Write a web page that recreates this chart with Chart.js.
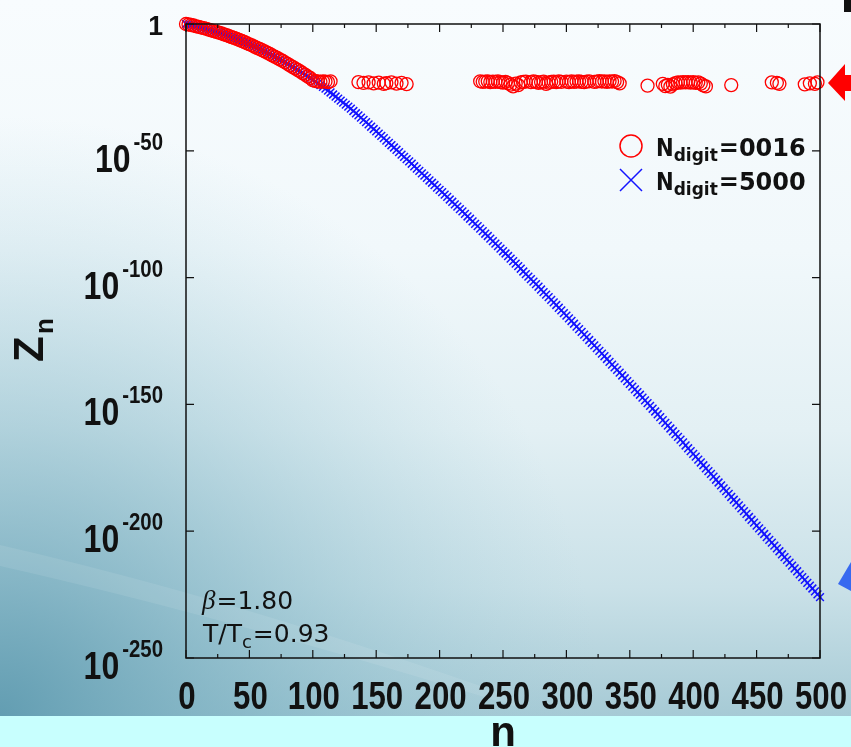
<!DOCTYPE html>
<html>
<head>
<meta charset="utf-8">
<script src="https://cdn.jsdelivr.net/npm/chart.js@4"></script>
<style>
html, body { margin: 0; padding: 0; background: #f6fbfd; overflow: hidden; }
#wrap { width: 851px; height: 747px; }
</style>
</head>
<body>
<div id="wrap"><canvas id="znChart" width="851" height="747"></canvas></div>
<script>
// log10(Z_n), N_digit = 5000, for n = 0, 2, 4, ... 500
const blueStep = 2;
const blueLogZ = [
  0, -0.2, -0.4, -0.6, -0.9, -1.1, -1.4, -1.6, -1.9, -2.2,
  -2.5, -2.8, -3.1, -3.4, -3.7, -4.1, -4.4, -4.8, -5.2, -5.5,
  -5.9, -6.3, -6.7, -7.1, -7.6, -8.0, -8.4, -8.9, -9.4, -9.8,
  -10.3, -10.8, -11.3, -11.8, -12.4, -12.9, -13.4, -14.0, -14.5, -15.1,
  -15.7, -16.3, -16.9, -17.5, -18.1, -18.7, -19.4, -20.0, -20.7, -21.3,
  -22.0, -22.7, -23.4, -24.1, -24.8, -25.5, -26.3, -27.0, -27.8, -28.6,
  -29.4, -30.2, -31.0, -31.8, -32.6, -33.4, -34.3, -35.2, -36.0, -36.9,
  -37.8,
  -38.7, -39.6, -40.5, -41.4, -42.3, -43.2, -44.1, -45.0, -46.0, -46.9,
  -47.8, -48.7, -49.6, -50.5, -51.5, -52.4, -53.3, -54.2, -55.1, -56.1,
  -57.0, -57.9, -58.9, -59.8, -60.7, -61.7, -62.6, -63.5, -64.5, -65.4,
  -66.3, -67.3, -68.2, -69.2, -70.1, -71.1, -72.0, -73.0, -73.9, -74.9,
  -75.9, -76.8, -77.8, -78.8, -79.7, -80.7, -81.7, -82.7, -83.6, -84.6,
  -85.6, -86.6, -87.6, -88.6, -89.6, -90.5, -91.5, -92.5, -93.5, -94.5,
  -95.5, -96.5, -97.6, -98.6, -99.6, -100.6, -101.6, -102.6, -103.6, -104.7,
  -105.7, -106.7, -107.7, -108.8, -109.8, -110.8, -111.9, -112.9, -114.0, -115.0,
  -116.1, -117.1, -118.2, -119.3, -120.3, -121.4, -122.5, -123.5, -124.6, -125.7,
  -126.7, -127.8, -128.9, -130.0, -131.0, -132.1, -133.2, -134.3, -135.4, -136.4,
  -137.5, -138.6, -139.7, -140.8, -141.9, -143.0, -144.1, -145.2, -146.2, -147.3,
  -148.4, -149.5, -150.6, -151.7, -152.8, -153.9, -155.0, -156.2, -157.3, -158.4,
  -159.5, -160.6, -161.7, -162.8, -163.9, -165.0, -166.2, -167.3, -168.4, -169.5,
  -170.6, -171.8, -172.9, -174.0, -175.2, -176.3, -177.4, -178.5, -179.7, -180.8,
  -181.9, -183.1, -184.2, -185.3, -186.5, -187.6, -188.7, -189.8, -191.0, -192.1,
  -193.2, -194.4, -195.5, -196.6, -197.8, -198.9, -200.0, -201.1, -202.3, -203.4,
  -204.5, -205.7, -206.8, -207.9, -209.1, -210.2, -211.3, -212.4, -213.6, -214.7,
  -215.8, -217.0, -218.1, -219.2, -220.4, -221.5, -222.6, -223.7, -224.9, -226.0
];

// N_digit = 0016: follows the exact curve, then stalls near 1e-23
const redN = [
  0, 2, 4, 6, 8, 10, 12, 14, 16, 18, 20, 22, 24, 26, 28, 30, 32, 34, 36, 38,
  40, 42, 44, 46, 48, 50, 52, 54, 56, 58, 60, 62, 64, 66, 68, 70, 72, 74, 76, 78,
  80, 82, 84, 86, 88, 90, 92, 94, 96, 98,
  100, 102, 104, 106, 108, 110, 112, 114,
  136, 140, 144, 148, 152, 156, 158, 162, 166, 170, 174,
  232, 234, 236, 238, 240, 242, 244, 246, 248, 250, 252, 254, 256, 258, 260, 262, 264, 266, 268,
  272, 274, 276, 278, 280, 282, 284, 286, 288, 290, 292, 294, 296, 300, 302, 304, 306, 308, 310,
  312, 314, 316, 318, 322, 324, 326, 328, 330, 332, 334, 336, 338, 340, 342,
  364,
  376, 378, 380, 382, 384, 386, 388, 390, 392, 394, 396, 398, 400, 402, 404, 406, 408, 410,
  430,
  462, 466, 468,
  488, 492, 496, 498
];
const redLogZ = [
  0, -0.2, -0.4, -0.6, -0.9, -1.1, -1.4, -1.6, -1.9, -2.2, -2.5, -2.8, -3.1, -3.4, -3.7, -4.1, -4.4, -4.8, -5.2, -5.5,
  -5.9, -6.3, -6.7, -7.1, -7.6, -8.0, -8.4, -8.9, -9.4, -9.8, -10.3, -10.8, -11.3, -11.8, -12.4, -12.9, -13.4, -14.0, -14.5, -15.1,
  -15.7, -16.3, -16.9, -17.5, -18.1, -18.7, -19.4, -20.0, -20.7, -21.3,
  -22.2, -22.5, -22.6, -22.8, -22.6, -22.7, -22.9, -22.6,
  -22.9, -23.2, -23.0, -23.4, -23.1, -23.6, -23.3, -23.0, -23.5, -23.2, -23.7,
  -22.6, -22.8, -22.7, -22.6, -22.9, -22.7, -22.8, -22.6, -22.9, -23.1, -22.8, -23.3, -23.9, -24.6, -23.5, -24.1, -23.0, -22.8, -22.7,
  -22.9, -22.6, -22.8, -23.2, -22.9, -22.7, -23.6, -23.1, -22.8, -22.7, -22.9, -22.6, -22.8, -22.7, -22.9, -22.6, -22.8, -22.7, -22.6,
  -22.8, -22.9, -22.7, -22.6, -22.8, -22.7, -22.5, -22.7, -22.6, -22.8, -22.6, -22.7, -22.5, -22.9, -23.4,
  -24.3,
  -23.6, -24.5, -24.0, -24.7, -23.8, -23.3, -23.0, -23.1, -22.9, -23.0, -22.9, -23.1, -22.9, -23.2, -23.0, -23.5, -24.2, -24.6,
  -24.1,
  -23.0, -23.2, -23.6,
  -23.8, -23.4, -23.6, -23.0
];

const xTicks = [0, 50, 100, 150, 200, 250, 300, 350, 400, 450, 500];
const xMinorTicks = [25, 75, 125, 175, 225, 275, 325, 375, 425, 475];
const xTickLabels = ['0', '50', '100', '150', '200', '250', '300', '350', '400', '450', '500'];
const yTicks = [0, -50, -100, -150, -200, -250];
const yTickLabels = ['1', '10^-50', '10^-100', '10^-150', '10^-200', '10^-250'];
const seriesNames = ['0016', '5000'];

const RED = 'rgb(255,0,0)';
const BLUE = 'rgb(20,20,255)';

function squeezed(ctx, txt, x, y, align, sx) {
  ctx.save();
  ctx.translate(x, y);
  ctx.scale(sx, 1);
  ctx.textAlign = align;
  ctx.fillText(txt, 0, 0);
  ctx.restore();
}

const backdrop = {
  id: 'backdrop',
  beforeDraw(chart) {
    const ctx = chart.ctx;
    ctx.save();
    let g = ctx.createLinearGradient(0, 0, 0, 716);
    g.addColorStop(0, '#f8fcfe');
    g.addColorStop(0.35, '#f1f8fb');
    g.addColorStop(0.6, '#e3f0f4');
    g.addColorStop(0.82, '#cae1e8');
    g.addColorStop(1, '#a6cad5');
    ctx.fillStyle = g;
    ctx.fillRect(0, 0, 851, 716);
    let r = ctx.createRadialGradient(0, 716, 0, 0, 716, 600);
    r.addColorStop(0, 'rgba(95,155,176,0.95)');
    r.addColorStop(0.45, 'rgba(118,174,192,0.5)');
    r.addColorStop(1, 'rgba(160,205,218,0)');
    ctx.fillStyle = r;
    ctx.fillRect(0, 0, 851, 716);
    // pale swoosh
    ctx.beginPath();
    ctx.moveTo(0, 545);
    ctx.quadraticCurveTo(240, 600, 520, 700);
    ctx.lineTo(520, 708);
    ctx.quadraticCurveTo(230, 618, 0, 566);
    ctx.closePath();
    ctx.fillStyle = 'rgba(255,255,255,0.09)';
    ctx.fill();
    ctx.fillStyle = '#c8fffe';
    ctx.fillRect(0, 716, 851, 31);
    ctx.restore();
  }
};

const frame = {
  id: 'frame',
  afterDraw(chart) {
    const ctx = chart.ctx;
    const { left, right, top, bottom } = chart.chartArea;
    const xs = chart.scales.x, ys = chart.scales.y;
    ctx.save();
    ctx.strokeStyle = '#111';
    ctx.lineWidth = 1.5;
    ctx.strokeRect(left, top, right - left, bottom - top);
    ctx.lineWidth = 1.2;
    ctx.beginPath();
    xTicks.concat(xMinorTicks).forEach(v => {
      const px = xs.getPixelForValue(v);
      const len = xTicks.includes(v) ? 8 : 4;
      ctx.moveTo(px, bottom); ctx.lineTo(px, bottom - len);
      ctx.moveTo(px, top); ctx.lineTo(px, top + len);
    });
    yTicks.forEach(v => {
      const py = ys.getPixelForValue(v);
      ctx.moveTo(left, py); ctx.lineTo(left + 8, py);
      ctx.moveTo(right, py); ctx.lineTo(right - 8, py);
    });
    ctx.stroke();

    // tick labels
    ctx.fillStyle = '#111';
    ctx.textBaseline = 'alphabetic';
    ctx.font = "bold 38px 'Liberation Sans'";
    xTicks.forEach((v, i) => {
      squeezed(ctx, xTickLabels[i], xs.getPixelForValue(v) + 1, 709, 'center', 0.82);
    });
    const edge = 163;
    yTicks.forEach((v, i) => {
      const py = ys.getPixelForValue(v);
      const lab = yTickLabels[i];
      if (lab.indexOf('^') < 0) {
        ctx.font = "bold 28px 'Liberation Sans'";
        squeezed(ctx, lab, edge, py + 11, 'right', 0.95);
        return;
      }
      const [base, expo] = lab.split('^');
      ctx.font = "bold 24px 'Liberation Sans'";
      const wExp = ctx.measureText(expo).width * 0.85;
      squeezed(ctx, expo, edge, py - 1, 'right', 0.85);
      ctx.font = "bold 39px 'Liberation Sans'";
      squeezed(ctx, base, edge - wExp - 3, py + 21, 'right', 0.82);
    });

    // axis titles
    ctx.font = "bold 42px 'Liberation Sans'";
    ctx.textAlign = 'center';
    ctx.fillText('n', 503, 746);
    ctx.save();
    ctx.translate(43, 362);
    ctx.rotate(-Math.PI / 2);
    ctx.textAlign = 'left';
    ctx.fillText('Z', 0, 0);
    ctx.font = "bold 26px 'Liberation Sans'";
    ctx.fillText('n', 28, 10);
    ctx.restore();

    // legend
    const rows = [{ y: 156, color: RED, kind: 'circle' }, { y: 190, color: BLUE, kind: 'cross' }];
    rows.forEach((row, i) => {
      const cy = row.y - 10;
      ctx.strokeStyle = row.color;
      ctx.lineWidth = 1.5;
      ctx.beginPath();
      if (row.kind === 'circle') {
        ctx.arc(631, cy, 11, 0, Math.PI * 2);
      } else {
        ctx.moveTo(620, cy - 11); ctx.lineTo(642, cy + 11);
        ctx.moveTo(642, cy - 11); ctx.lineTo(620, cy + 11);
      }
      ctx.stroke();
      ctx.fillStyle = '#111';
      ctx.textAlign = 'left';
      let x = 656;
      ctx.font = "bold 24px 'DejaVu Sans'";
      squeezed(ctx, 'N', x, row.y, 'left', 0.88);
      x += ctx.measureText('N').width * 0.88;
      ctx.font = "bold 17px 'DejaVu Sans'";
      ctx.fillText('digit', x, row.y + 5);
      x += ctx.measureText('digit').width + 1;
      ctx.font = "bold 24px 'DejaVu Sans'";
      ctx.fillText('=' + seriesNames[i], x, row.y);
    });

    // parameters
    ctx.fillStyle = '#111';
    ctx.font = "italic 27px 'Liberation Serif'";
    ctx.fillText('β', 202, 609);
    let bx = 202 + ctx.measureText('β').width + 1;
    ctx.font = "25px 'DejaVu Sans'";
    ctx.fillText('=1.80', bx, 609);
    ctx.fillText('T/T', 203, 642);
    let tx = 203 + ctx.measureText('T/T').width;
    ctx.font = "18px 'DejaVu Sans'";
    ctx.fillText('c', tx, 648);
    tx += ctx.measureText('c').width + 1;
    ctx.font = "25px 'DejaVu Sans'";
    ctx.fillText('=0.93', tx, 642);

    // slide arrows at the right edge
    ctx.fillStyle = RED;
    ctx.beginPath();
    ctx.moveTo(828, 83); ctx.lineTo(845, 64); ctx.lineTo(845, 75); ctx.lineTo(851, 75);
    ctx.lineTo(851, 91); ctx.lineTo(845, 91); ctx.lineTo(845, 101);
    ctx.closePath();
    ctx.fill();
    ctx.fillStyle = 'rgb(55,105,240)';
    ctx.beginPath();
    ctx.moveTo(838, 584); ctx.lineTo(851, 562); ctx.lineTo(851, 591);
    ctx.closePath();
    ctx.fill();
    ctx.fillStyle = '#111';
    ctx.fillRect(844, 0, 7, 12);
    ctx.restore();
  }
};

const ctx = document.getElementById('znChart').getContext('2d');
new Chart(ctx, {
  type: 'scatter',
  data: {
    datasets: [
      {
        label: 'N_digit=' + seriesNames[0],
        data: redN.map((n, i) => ({ x: n, y: redLogZ[i] })),
        pointStyle: 'circle',
        pointRadius: 6.5,
        borderColor: RED,
        backgroundColor: 'rgba(0,0,0,0)',
        borderWidth: 1.3,
        clip: false
      },
      {
        label: 'N_digit=' + seriesNames[1],
        data: blueLogZ.map((v, i) => ({ x: i * blueStep, y: v })),
        pointStyle: 'crossRot',
        pointRadius: 5.5,
        borderColor: BLUE,
        backgroundColor: BLUE,
        borderWidth: 1.5,
        clip: false
      }
    ]
  },
  options: {
    responsive: false,
    animation: false,
    events: [],
    layout: { padding: { left: 186, right: 31, top: 24, bottom: 89 } },
    scales: {
      x: { type: 'linear', min: 0, max: 500, display: false },
      y: { type: 'linear', min: -250, max: 0, display: false }
    },
    plugins: {
      legend: { display: false },
      tooltip: { enabled: false }
    }
  },
  plugins: [backdrop, frame]
});
</script>
</body>
</html>
